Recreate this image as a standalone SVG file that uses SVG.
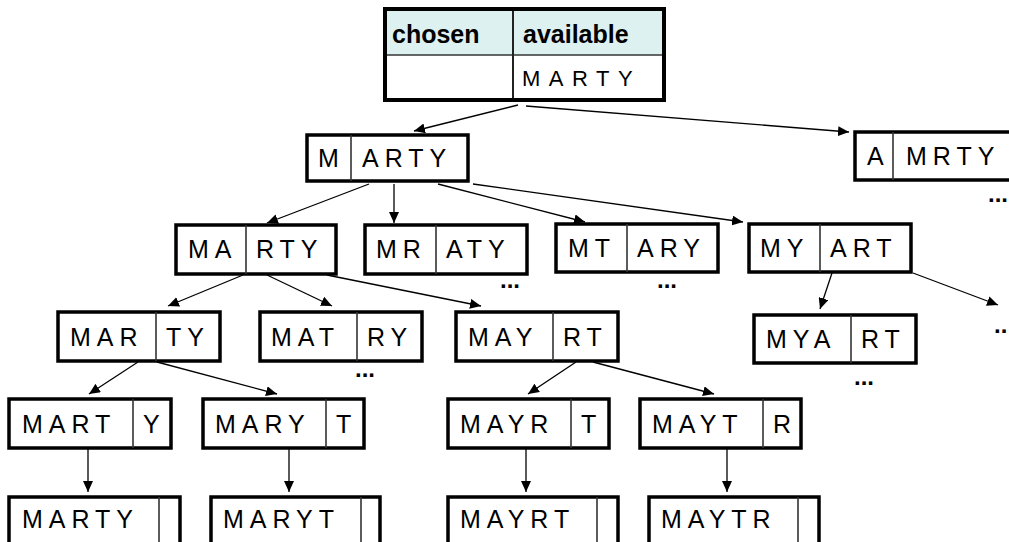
<svg xmlns="http://www.w3.org/2000/svg" width="1009" height="542" viewBox="0 0 1009 542">
<style>
.box{fill:#fff;stroke:#000;stroke-width:3.5}
.div{stroke:#333;stroke-width:1.6}
.t{font-family:"Liberation Sans",Arial,sans-serif;font-size:25px;letter-spacing:6px;fill:#000}
.h{font-family:"Liberation Sans",Arial,sans-serif;font-size:25px;font-weight:bold;fill:#000}
.dots{font-family:"Liberation Sans",Arial,sans-serif;font-size:24px;font-weight:bold;fill:#000}
.c{stroke:#000;stroke-width:1.3;fill:none;marker-end:url(#ah)}
</style>
<defs>
<marker id="ah" markerUnits="userSpaceOnUse" markerWidth="12" markerHeight="10" refX="11" refY="5" orient="auto">
<path d="M0,0 L11,5 L0,10 Z" fill="#000"/>
</marker>
</defs>
<rect width="1009" height="542" fill="#fff"/>

<g id="connectors">
<line class="c" x1="518" y1="105" x2="414" y2="131"/>
<line class="c" x1="526" y1="106" x2="849" y2="132"/>
<line class="c" x1="369" y1="184" x2="267" y2="223"/>
<line class="c" x1="394" y1="184" x2="394" y2="223"/>
<line class="c" x1="438" y1="184" x2="585" y2="222"/>
<line class="c" x1="473" y1="184" x2="743" y2="222"/>
<line class="c" x1="243" y1="275" x2="168" y2="306"/>
<line class="c" x1="267" y1="275" x2="332" y2="306"/>
<line class="c" x1="327" y1="275" x2="481" y2="306"/>
<line class="c" x1="832" y1="273" x2="820" y2="309"/>
<line class="c" x1="913" y1="273" x2="998" y2="305"/>
<line class="c" x1="138" y1="362" x2="89" y2="394"/>
<line class="c" x1="157" y1="362" x2="277" y2="394"/>
<line class="c" x1="576" y1="362" x2="528" y2="394"/>
<line class="c" x1="593" y1="362" x2="714" y2="394"/>
<line class="c" x1="88" y1="449" x2="88" y2="492"/>
<line class="c" x1="289" y1="449" x2="289" y2="492"/>
<line class="c" x1="526" y1="449" x2="526" y2="492"/>
<line class="c" x1="727" y1="449" x2="727" y2="492"/>
</g>

<g id="root">
<rect x="385" y="9" width="279" height="46" fill="#def1f1"/>
<rect x="385" y="55" width="279" height="45" fill="#fff"/>
<line class="div" x1="385" y1="55" x2="664" y2="55"/>
<line x1="513" y1="9" x2="513" y2="100" stroke="#222" stroke-width="2"/>
<rect x="385" y="9" width="279" height="91" fill="none" stroke="#000" stroke-width="4"/>
<text class="h" x="392" y="43">chosen</text>
<text class="h" x="523" y="43">available</text>
<text class="t" x="522" y="86" style="font-size:22px;letter-spacing:8.5px">MARTY</text>
</g>

<g id="n1"><rect class="box" x="307" y="135" width="161" height="46"/><line class="div" x1="351" y1="135" x2="351" y2="181"/><text class="t" x="318" y="167">M</text><text class="t" x="362" y="167">ARTY</text></g>
<g id="n2"><rect class="box" x="855" y="132" width="170" height="48"/><line class="div" x1="893" y1="132" x2="893" y2="180"/><text class="t" x="867" y="165">A</text><text class="t" x="906" y="165">MRTY</text></g>
<g id="n3"><rect class="box" x="176" y="225" width="160" height="49"/><line class="div" x1="246" y1="225" x2="246" y2="274"/><text class="t" x="188" y="258">MA</text><text class="t" x="256" y="258">RTY</text></g>
<g id="n4"><rect class="box" x="365" y="225" width="162" height="49"/><line class="div" x1="436" y1="225" x2="436" y2="274"/><text class="t" x="376" y="258">MR</text><text class="t" x="446" y="258">ATY</text></g>
<g id="n5"><rect class="box" x="556" y="224" width="162" height="48"/><line class="div" x1="627" y1="224" x2="627" y2="272"/><text class="t" x="568" y="257">MT</text><text class="t" x="637" y="257">ARY</text></g>
<g id="n6"><rect class="box" x="749" y="224" width="162" height="48"/><line class="div" x1="820" y1="224" x2="820" y2="272"/><text class="t" x="760" y="257">MY</text><text class="t" x="830" y="257">ART</text></g>
<g id="n7"><rect class="box" x="58" y="312" width="162" height="49"/><line class="div" x1="156" y1="312" x2="156" y2="361"/><text class="t" x="70" y="346">MAR</text><text class="t" x="166" y="346">TY</text></g>
<g id="n8"><rect class="box" x="260" y="312" width="162" height="49"/><line class="div" x1="357" y1="312" x2="357" y2="361"/><text class="t" x="271" y="346">MAT</text><text class="t" x="367" y="346">RY</text></g>
<g id="n9"><rect class="box" x="456" y="312" width="162" height="49"/><line class="div" x1="553" y1="312" x2="553" y2="361"/><text class="t" x="468" y="346">MAY</text><text class="t" x="563" y="346">RT</text></g>
<g id="n10"><rect class="box" x="754" y="315" width="162" height="48"/><line class="div" x1="851" y1="315" x2="851" y2="363"/><text class="t" x="766" y="348">MYA</text><text class="t" x="861" y="348">RT</text></g>
<g id="n11"><rect class="box" x="9" y="399" width="162" height="49"/><line class="div" x1="133" y1="399" x2="133" y2="448"/><text class="t" x="22" y="433">MART</text><text class="t" x="143" y="433">Y</text></g>
<g id="n12"><rect class="box" x="203" y="399" width="161" height="49"/><line class="div" x1="326" y1="399" x2="326" y2="448"/><text class="t" x="215" y="433">MARY</text><text class="t" x="336" y="433">T</text></g>
<g id="n13"><rect class="box" x="448" y="399" width="161" height="49"/><line class="div" x1="571" y1="399" x2="571" y2="448"/><text class="t" x="460" y="433">MAYR</text><text class="t" x="581" y="433">T</text></g>
<g id="n14"><rect class="box" x="640" y="399" width="161" height="49"/><line class="div" x1="763" y1="399" x2="763" y2="448"/><text class="t" x="652" y="433">MAYT</text><text class="t" x="773" y="433">R</text></g>
<g id="n15"><rect class="box" x="9" y="497" width="171" height="60"/><line class="div" x1="159" y1="497" x2="159" y2="557"/><text class="t" x="22" y="528">MARTY</text></g>
<g id="n16"><rect class="box" x="211" y="497" width="169" height="60"/><line class="div" x1="361" y1="497" x2="361" y2="557"/><text class="t" x="223" y="528">MARYT</text></g>
<g id="n17"><rect class="box" x="448" y="497" width="170" height="60"/><line class="div" x1="597" y1="497" x2="597" y2="557"/><text class="t" x="460" y="528">MAYRT</text></g>
<g id="n18"><rect class="box" x="649" y="497" width="170" height="60"/><line class="div" x1="798" y1="497" x2="798" y2="557"/><text class="t" x="661" y="528">MAYTR</text></g>

<g id="ellipses">
<text class="dots" x="500" y="288">...</text>
<text class="dots" x="657" y="288">...</text>
<text class="dots" x="355" y="377">...</text>
<text class="dots" x="854" y="385">...</text>
<text class="dots" x="988" y="202">...</text>
<text class="dots" x="994" y="333">..</text>
</g>
</svg>
